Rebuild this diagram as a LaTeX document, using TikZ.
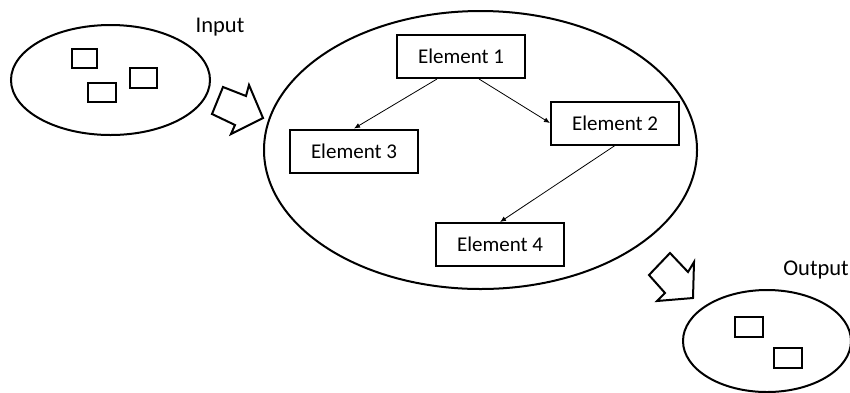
\documentclass[tikz,border=0pt]{standalone}
\usepackage{fontspec}
\setmainfont{Carlito}
\usepackage{xcolor}
\usepackage{tikz}
\usetikzlibrary{arrows.meta}
\definecolor{lineblack}{RGB}{0, 0, 0}

\tikzset{
  element/.style={draw=lineblack, line width=2pt, minimum width=128pt, minimum height=43pt, font=\fontsize{21}{25}\selectfont},
  group/.style={draw=lineblack, line width=2pt},
  item/.style={draw=lineblack, line width=1.9pt},
  flow/.style={-{Latex[length=6pt,width=5pt]}, line width=0.8pt},
  bigarrow/.style={draw=lineblack, line width=2pt, line join=miter},
  caption/.style={font=\fontsize{22.5}{26}\selectfont}
}

\begin{document}
\begin{tikzpicture}[x=1pt, y=-1pt]
\useasboundingbox (0,0) rectangle (850,392);

\draw[group] (110.5,80) ellipse [x radius=99.5, y radius=55];
\draw[item] (72,49) rectangle (97,68);
\draw[item] (130,68) rectangle (157,88);
\draw[item] (88,83) rectangle (116,102);
\node[caption] (input) at (220,27) {Input};

\draw[bigarrow] (223,87) -- (246,96) -- (249,85) -- (263,118) -- (231,134) -- (235,125) -- (212,114) -- cycle;

\draw[group] (480.5,150) ellipse [x radius=216.5, y radius=139];
\node[element] (e1) at (461,56.5) {Element 1};
\node[element] (e2) at (615,123) {Element 2};
\node[element] (e3) at (354,151) {Element 3};
\node[element] (e4) at (500,244.5) {Element 4};

\draw[flow] ([xshift=-24pt]e1.south) -- (e3.north);
\draw[flow] ([xshift=18pt]e1.south) -- (e2.west);
\draw[flow] (e2.south) -- (e4.north);

\draw[bigarrow] (670,253) -- (688,272) -- (694,262) -- (693,298) -- (657,301) -- (665,293) -- (649,275) -- cycle;

\draw[group] (767,341) ellipse [x radius=84, y radius=51];
\draw[item] (735,317) rectangle (763,337);
\draw[item] (774,348) rectangle (802,368);
\node[caption] (output) at (816,270) {Output};
\end{tikzpicture}
\end{document}
